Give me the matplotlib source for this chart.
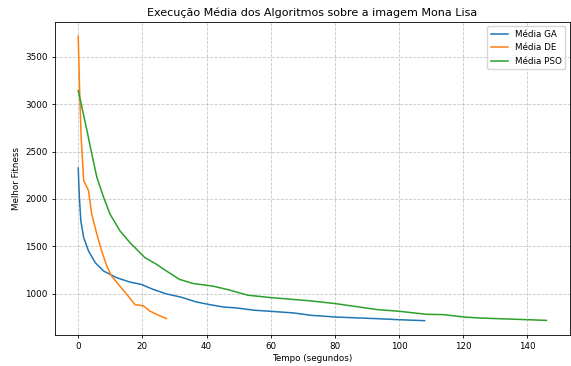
import matplotlib
matplotlib.use("Agg")
import matplotlib.pyplot as plt

# tempo (s) e fitness medio de cada algoritmo
ga_t = [0, 0.3, 0.8, 1.7, 3.2, 5.3, 7.9, 12, 16.1, 19.7, 23.4, 27.5, 32.1, 36.8, 40.9,
        45.1, 49.2, 55, 60, 67.3, 72.5, 80, 88, 93.2, 100.2, 108]
ga_fit = [2326, 2053, 1770, 1592, 1450, 1326, 1238, 1167, 1121, 1096, 1043, 996, 961, 911, 883,
          858, 848, 823, 812, 794, 770, 752, 741, 734, 723, 713]

de_t = [0, 0.4, 0.9, 1.7, 3.2, 4.2, 5.8, 7.3, 8.9, 10.4, 13, 15.6, 17.7, 20.3, 22.3, 24.4, 27.5]
de_fit = [3720, 3188, 2656, 2195, 2089, 1840, 1628, 1450, 1291, 1184, 1078, 972, 883, 870,
          815, 780, 735]

pso_t = [0, 1.1, 2.7, 4.2, 5.8, 7.9, 9.9, 13, 16.1, 20.8, 24.4, 27.5, 31.6, 35.8, 42, 46.8,
         52.9, 60, 72.5, 80, 86, 93.2, 100.2, 108.6, 113.8, 120.2, 125.1, 134.4, 140.3, 146]
pso_fit = [3145, 2976, 2727, 2479, 2230, 2018, 1840, 1663, 1539, 1379, 1309, 1238, 1149, 1106,
           1078, 1040, 982, 957, 922, 894, 865, 830, 812, 780, 777, 752, 741, 730, 723, 716]

fig = plt.figure(figsize=(5.71, 3.66), dpi=100)
ax = fig.add_subplot(111)
ax.plot(ga_t, ga_fit, color="tab:blue", lw=1.1, label="Média GA")
ax.plot(de_t, de_fit, color="tab:orange", lw=1.1, label="Média DE")
ax.plot(pso_t, pso_fit, color="tab:green", lw=1.1, label="Média PSO")

ax.set_title("Execução Média dos Algoritmos sobre a imagem Mona Lisa", fontsize=8, pad=4)
ax.set_xlabel("Tempo (segundos)", fontsize=6.3, labelpad=2)
ax.set_ylabel("Melhor Fitness", fontsize=6.3, labelpad=3)
ax.tick_params(labelsize=6.3, length=2.5, pad=2.5, width=0.6)
for s in ax.spines.values():
    s.set_linewidth(0.6)
ax.grid(True, linestyle="--", alpha=0.7, lw=0.6)
ax.legend(loc="upper right", fontsize=6.3)

plt.subplots_adjust(left=0.096, right=0.998, top=0.94, bottom=0.085)
plt.savefig("out.png")
